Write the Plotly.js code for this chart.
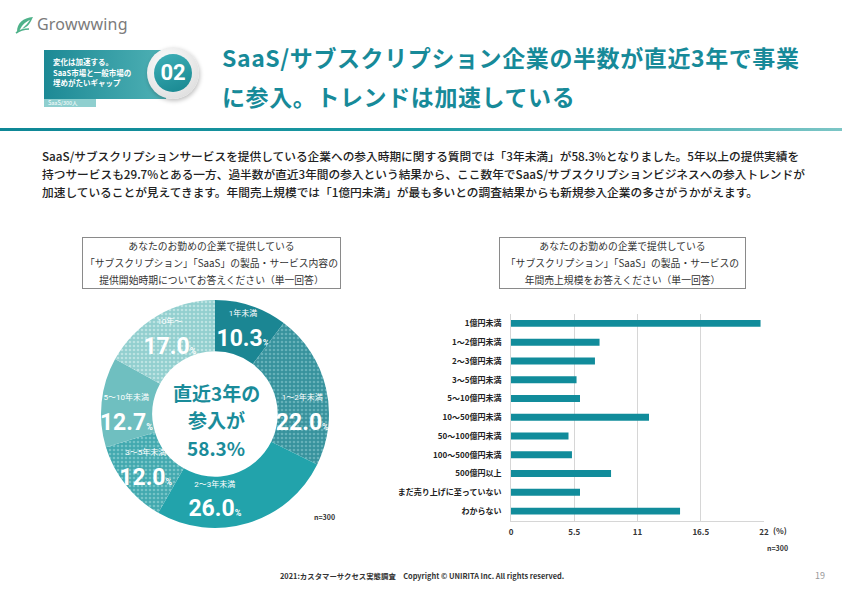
<!DOCTYPE html>
<html>
<head>
<meta charset="utf-8">
<script src="https://cdn.plot.ly/plotly-3.0.1.min.js"></script>
<style>
  html, body { margin:0; padding:0; background:#fff; width:842px; height:595px; overflow:hidden; }
  body { position:relative; font-family:"Noto Sans CJK JP","Noto Sans",sans-serif; }
  #chart { position:absolute; left:0; top:0; width:842px; height:595px; }
  .abs { position:absolute; white-space:nowrap; }
</style>
</head>
<body>
<div id="chart"></div>

<!-- logo -->
<svg class="abs" style="left:14px;top:15px" width="22" height="20" viewBox="0 0 22 20">
  <path d="M3 17 C3 8 9 3 19 2 C17 6 15 12 8 14 C12 10 14 8 16 5 C11 7 7 11 5 17 Z" fill="#4fb28a"/>
  <path d="M2 18 C6 15 10 14 15 14" stroke="#4fb28a" stroke-width="1.6" fill="none"/>
</svg>
<div class="abs" style="left:37px;top:13px;font-family:'Noto Sans';font-size:16px;color:#7b7b7b;letter-spacing:0.2px">Growwwing</div>

<!-- header badge -->
<div class="abs" style="left:44px;top:50px;width:122px;height:49px;background:linear-gradient(90deg,#1c8995,#4fb1b5);"></div>
<div class="abs" style="left:44px;top:99px;width:52px;height:8px;background:#8fcfcf;"></div>
<div class="abs" style="left:48px;top:98px;font-size:5.5px;color:#fff;line-height:10px">SaaS/300人</div>
<div class="abs" style="left:53px;top:57px;font-size:7.5px;line-height:10.5px;color:#fff;font-weight:bold">変化は加速する。<br>SaaS市場と一般市場の<br>埋めがたいギャップ</div>
<div class="abs" style="left:147px;top:47px;width:52px;height:52px;border-radius:50%;background:radial-gradient(circle at 40% 35%,#ffffff,#d6d6d6);box-shadow:1px 2px 4px rgba(0,0,0,0.25);"></div>
<div class="abs" style="left:154px;top:54px;width:38px;height:38px;border-radius:50%;background:linear-gradient(160deg,#3fb0b8,#17868f);"></div>
<div class="abs" style="left:154px;top:54px;width:38px;height:38px;line-height:38px;text-align:center;font-family:Roboto;font-weight:bold;font-size:22px;color:#fff">02</div>

<!-- title -->
<div class="abs" style="left:222px;top:38px;font-size:23px;line-height:39px;font-weight:bold;color:#178a99;letter-spacing:0.6px">SaaS/サブスクリプション企業の半数が直近3年で事業<br>に参入。トレンドは加速している</div>

<!-- divider -->
<div class="abs" style="left:0;top:128px;width:842px;height:3px;background:linear-gradient(90deg,#0e8796,#1b9aa3 50%,#7cc6c6);"></div>

<!-- body text -->
<div class="abs" style="left:42px;top:147px;font-size:11.7px;line-height:18px;color:#222;font-weight:500">SaaS/サブスクリプションサービスを提供している企業への参入時期に関する質問では「3年未満」が58.3%となりました。5年以上の提供実績を<br>持つサービスも29.7%とある一方、過半数が直近3年間の参入という結果から、ここ数年でSaaS/サブスクリプションビジネスへの参入トレンドが<br>加速していることが見えてきます。年間売上規模では「1億円未満」が最も多いとの調査結果からも新規参入企業の多さがうかがえます。</div>

<!-- chart question boxes -->
<div class="abs" style="left:82px;top:237px;width:257px;height:50px;border:1px solid #8a8a8a;text-align:center;font-size:9.8px;line-height:17px;color:#333">あなたのお勤めの企業で提供している<br>「サブスクリプション」「SaaS」の製品・サービス内容の<br>提供開始時期についてお答えください（単一回答）</div>
<div class="abs" style="left:499px;top:237px;width:245px;height:50px;border:1px solid #8a8a8a;text-align:center;font-size:9.8px;line-height:17px;color:#333">あなたのお勤めの企業で提供している<br>「サブスクリプション」「SaaS」の製品・サービスの<br>年間売上規模をお答えください（単一回答）</div>

<div class="abs" style="left:314px;top:512px;font-size:7px;font-weight:bold;color:#333">n=300</div>
<div class="abs" style="left:767px;top:543px;font-size:7px;font-weight:bold;color:#333">n=300</div>

<!-- footer -->
<div class="abs" style="left:280px;top:570px;font-size:7.4px;font-weight:bold;color:#333">2021:カスタマーサクセス実態調査　Copyright © UNIRITA Inc. All rights reserved.</div>
<div class="abs" style="left:815px;top:569px;font-size:9px;color:#999">19</div>

<script>
// ---- data ----
const yearCats = ['1年未満','1〜2年未満','2〜3年未満','3〜5年未満','5〜10年未満','10年〜'];
const yearVals = [10.3, 22.0, 26.0, 12.0, 12.7, 17.0];
const salesCats = ['1億円未満','1〜2億円未満','2〜3億円未満','3〜5億円未満','5〜10億円未満','10〜50億円未満','50〜100億円未満','100〜500億円未満','500億円以上','まだ売り上げに至っていない','わからない'];
const salesVals = [21.7, 7.7, 7.3, 5.7, 6.0, 12.0, 5.0, 5.3, 8.7, 6.0, 14.7];
const xTickVals = [0, 5.5, 11, 16.5, 22];
const xTickText = ['0', '5.5', '11', '16.5', '22'];
const centerLines = ['直近3年の', '参入が', '58.3%'];

// ---- styles ----
const sliceColors = ['#1b8693', '#37929d', '#22a3ab', '#42a9af', '#6fbfc0', '#92cfcf'];
const dotColors   = ['#1b8693', '#66b1b9', '#22a3ab', '#76c4c7', '#6fbfc0', '#bce3e2'];
const dotShapes   = ['', '.', '', '.', '', '.'];

const W = 842, H = 595;
const cx = 215, cy = 414, R = 114;

const pie = {
  type: 'pie',
  labels: yearCats,
  values: yearVals,
  sort: false,
  direction: 'clockwise',
  rotation: 0,
  hole: 0.55,
  domain: { x: [(cx - R) / W, (cx + R) / W], y: [1 - (cy + R) / H, 1 - (cy - R) / H] },
  marker: {
    colors: sliceColors,
    line: { width: 0 },
    pattern: { shape: dotShapes, fgcolor: dotColors, bgcolor: sliceColors, size: 4, solidity: 0.35 }
  },
  texttemplate: '<span style="font-size:8px;font-weight:normal">%{label}</span><br>%{value:.1f}<span style="font-size:9px">%</span>',
  textposition: 'inside',
  insidetextorientation: 'horizontal',
  textfont: { family: 'Roboto, "Noto Sans CJK JP"', size: 23, color: '#ffffff', weight: 'bold' },
  hoverinfo: 'skip',
  showlegend: false
};

const bar = {
  type: 'bar',
  orientation: 'h',
  y: salesCats,
  x: salesVals,
  marker: { color: '#118c9b' },
  hoverinfo: 'skip',
  showlegend: false,
  xaxis: 'x',
  yaxis: 'y'
};

const centerY = [392, 419, 447];
const annotations = centerLines.map((t, i) => ({
  xref: 'paper', yref: 'paper', x: (cx + 1) / W, y: 1 - centerY[i] / H,
  xanchor: 'center', yanchor: 'middle', text: t, showarrow: false,
  font: { family: '"Noto Sans CJK JP"', size: 19, color: '#1a8c9a', weight: 'bold' }
}));
annotations.push({ xref: 'paper', yref: 'paper', x: 771 / W, y: 1 - 530 / H, xanchor: 'left', yanchor: 'middle',
  text: '(%)', showarrow: false,
  font: { family: '"Noto Sans CJK JP"', size: 8, color: '#333', weight: 'bold' } });

const layout = {
  width: W, height: H,
  margin: { l: 0, r: 0, t: 0, b: 0 },
  paper_bgcolor: 'rgba(0,0,0,0)',
  plot_bgcolor: 'rgba(0,0,0,0)',
  bargap: 0.63,
  uniformtext: { mode: 'show', minsize: 23 },
  xaxis: {
    domain: [511 / W, 764 / W],
    range: [0, 22],
    tickvals: xTickVals, ticktext: xTickText,
    showgrid: true, gridcolor: '#d6d6d6', gridwidth: 1,
    zeroline: false, showline: true, linecolor: '#d6d6d6',
    ticks: '', ticklabelstandoff: 4,
    tickfont: { family: '"Noto Sans CJK JP"', size: 8, color: '#333', weight: 'bold' },
    fixedrange: true
  },
  yaxis: {
    domain: [1 - 520.5 / H, 1 - 314 / H],
    autorange: 'reversed',
    showgrid: false, zeroline: false, showline: true, linecolor: '#d6d6d6',
    ticks: '', ticklabelstandoff: 7,
    tickfont: { family: '"Noto Sans CJK JP"', size: 8, color: '#222', weight: 'bold' },
    fixedrange: true
  },
  annotations: annotations
};

Plotly.newPlot('chart', [pie, bar], layout, { staticPlot: true, displayModeBar: false });
</script>
</body>
</html>
